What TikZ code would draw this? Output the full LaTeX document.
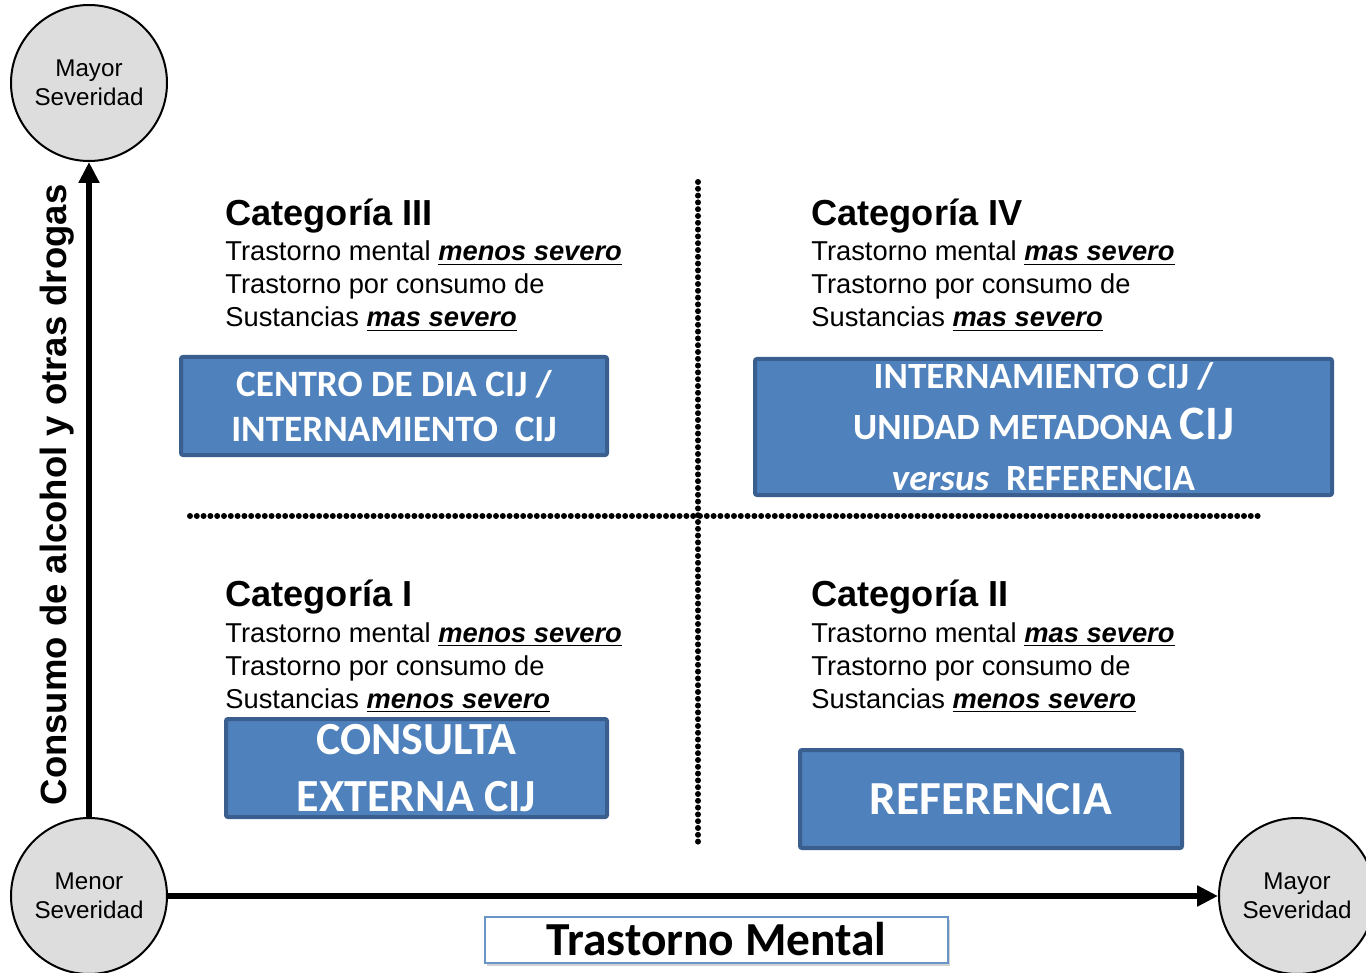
\documentclass[tikz,border=0pt]{standalone}
\usepackage{fontspec}
\setmainfont{Liberation Sans}
\newfontfamily\calibri{Carlito}
\usetikzlibrary{arrows.meta,positioning,shadows}
\definecolor{boxblue}{HTML}{4F81BD}
\definecolor{boxedge}{HTML}{3A5F8E}
\definecolor{circgray}{HTML}{DDDDDD}
\newcommand{\sevtext}[1]{\underline{\textbf{\textit{#1}}}}

\tikzset{
  sevcircle/.style={circle,draw=black,line width=1pt,fill=circgray,minimum size=78pt,
    inner sep=0pt,align=center,font=\fontsize{12.1}{14.5}\selectfont},
  axisarrow/.style={line width=3pt,-{Triangle[length=10.5pt,width=10pt]}},
  quadline/.style={line width=3pt,dash pattern=on 0pt off 3.4pt,line cap=round},
  cathead/.style={anchor=base west,inner sep=0pt,font=\fontsize{18.1}{21}\selectfont\bfseries},
  catbody/.style={anchor=base west,inner sep=0pt,align=left,font=\fontsize{13.65}{16.5}\selectfont},
  carebox/.style={rectangle,fill=boxblue,draw=boxedge,line width=2pt,rounded corners=1pt,
    inner sep=0pt,align=center,text=white,font=\calibri\bfseries\fontsize{18.6}{22.5}\selectfont},
  labelbox/.style={rectangle,fill=white,draw=boxblue!85,line width=0.8pt,inner sep=0pt,
    minimum width=231.5pt,minimum height=23pt,text height=15pt,text depth=0pt,
    font=\calibri\bfseries\fontsize{23.7}{26}\selectfont,
    drop shadow={opacity=0.35,shadow xshift=1pt,shadow yshift=-1.5pt}}
}

\begin{document}
\begin{tikzpicture}[x=0.5pt,y=-0.5pt]
  \useasboundingbox (0,0) rectangle (1366,973);

  % severity circles and axes
  \node[sevcircle] (mayorY) at (89,83) {Mayor\\Severidad};
  \node[sevcircle] (menor) at (89,896) {Menor\\Severidad};
  \node[sevcircle] (mayorX) at (1297,896) {Mayor\\Severidad};
  \draw[axisarrow] (menor.north) -- (mayorY.south);
  \draw[axisarrow] (menor.east) -- (mayorX.west);
  \node[rotate=90,inner sep=0pt,font=\fontsize{18.25}{21}\selectfont\bfseries] (ylabel) at (57,495)
    {Consumo de alcohol y otras drogas};
  \node[labelbox] (xlabel) at (716.5,940) {Trastorno Mental};

  % quadrant separators
  \coordinate (vtop) at (698,182);
  \coordinate (vbot) at (698,842);
  \coordinate (hleft) at (190,516);
  \coordinate (hright) at (1263,516);
  \draw[quadline] (vtop) -- (vbot);
  \draw[quadline] (hleft) -- (hright);

  % categories
  \node[cathead] (cat3) at (225,226) {Categoría III};
  \node[catbody] (cat3txt) at (225,327) {Trastorno mental \sevtext{menos severo}\\
    Trastorno por consumo de\\Sustancias \sevtext{mas severo}};
  \node[cathead] (cat4) at (811,226) {Categoría IV};
  \node[catbody] (cat4txt) at (811,327) {Trastorno mental \sevtext{mas severo}\\
    Trastorno por consumo de\\Sustancias \sevtext{mas severo}};
  \node[cathead] (cat1) at (225,606) {Categoría I};
  \node[catbody] (cat1txt) at (225,708) {Trastorno mental \sevtext{menos severo}\\
    Trastorno por consumo de\\Sustancias \sevtext{menos severo}};
  \node[cathead] (cat2) at (811,606) {Categoría II};
  \node[catbody] (cat2txt) at (811,708) {Trastorno mental \sevtext{mas severo}\\
    Trastorno por consumo de\\Sustancias \sevtext{menos severo}};

  % care settings
  \node[carebox,minimum width=213pt,minimum height=49pt] (centro) at (394,406)
    {CENTRO DE DIA CIJ /\\INTERNAMIENTO\ \ CIJ};
  \node[carebox,minimum width=288.5pt,minimum height=68pt,
    font=\calibri\bfseries\fontsize{18.5}{25.5}\selectfont] (intern) at (1043.5,427)
    {INTERNAMIENTO CIJ /\\UNIDAD METADONA {\fontsize{24}{25.5}\selectfont CIJ}\\
    \textit{versus}\ \ REFERENCIA};
  \node[carebox,minimum width=190.5pt,minimum height=49pt,
    font=\calibri\bfseries\fontsize{23}{28.5}\selectfont] (consulta) at (416.5,768)
    {CONSULTA\\EXTERNA CIJ};
  \node[carebox,minimum width=191pt,minimum height=49pt,
    font=\calibri\bfseries\fontsize{23.7}{28}\selectfont] (refer) at (991,799)
    {REFERENCIA};
\end{tikzpicture}
\end{document}
